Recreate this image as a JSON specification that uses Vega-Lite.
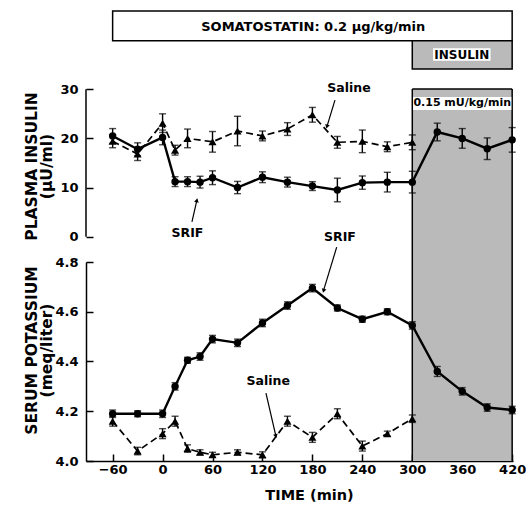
{
 "$schema": "https://vega.github.io/schema/vega-lite/v6.json",
 "padding": {"left": 23, "top": 0, "right": 0, "bottom": 0},
 "spacing": 0,
 "bounds": "flush",
 "resolve": {"scale": {"x": "independent", "y": "independent"}},
 "config": {
  "view": {"stroke": null},
  "font": "DejaVu Sans",
  "text": {"font": "DejaVu Sans", "fontWeight": "bold", "color": "black"},
  "axis": {"labelFont": "DejaVu Sans", "labelFontWeight": "bold", "labelFontSize": 13, "labelColor": "black", "titleFont": "DejaVu Sans", "titleFontWeight": "bold", "titleColor": "black", "domainColor": "black", "domainWidth": 1.5, "tickColor": "black", "tickWidth": 1.5, "grid": false, "zindex": 1, "labelFlush": false}
 },
 "datasets": {
  "one": [{}],
  "insulin": [
   {"t": -60, "v": 20.5, "e": 1.5, "g": "SRIF"}, {"t": -30, "v": 17.8, "e": 1.3, "g": "SRIF"}, {"t": 0, "v": 20.2, "e": 1.5, "g": "SRIF"},
   {"t": 15, "v": 11.2, "e": 1.0, "g": "SRIF"}, {"t": 30, "v": 11.2, "e": 1.0, "g": "SRIF"}, {"t": 45, "v": 11.1, "e": 1.2, "g": "SRIF"},
   {"t": 60, "v": 12.0, "e": 1.4, "g": "SRIF"}, {"t": 90, "v": 10.0, "e": 1.25, "g": "SRIF"}, {"t": 120, "v": 12.1, "e": 1.1, "g": "SRIF"},
   {"t": 150, "v": 11.1, "e": 1.0, "g": "SRIF"}, {"t": 180, "v": 10.3, "e": 0.9, "g": "SRIF"}, {"t": 210, "v": 9.5, "e": 2.4, "g": "SRIF"},
   {"t": 240, "v": 11.0, "e": 1.35, "g": "SRIF"}, {"t": 270, "v": 11.1, "e": 2.0, "g": "SRIF"}, {"t": 300, "v": 11.1, "e": 2.2, "g": "SRIF"},
   {"t": 330, "v": 21.3, "e": 1.8, "g": "SRIF"}, {"t": 360, "v": 20.0, "e": 2.0, "g": "SRIF"}, {"t": 390, "v": 17.9, "e": 2.2, "g": "SRIF"},
   {"t": 420, "v": 19.7, "e": 2.5, "g": "SRIF"},
   {"t": -60, "v": 19.4, "e": 1.3, "g": "Saline"}, {"t": -30, "v": 16.8, "e": 1.3, "g": "Saline"}, {"t": 0, "v": 23.1, "e": 1.9, "g": "Saline"},
   {"t": 15, "v": 17.6, "e": 1.0, "g": "Saline"}, {"t": 30, "v": 20.0, "e": 1.9, "g": "Saline"}, {"t": 60, "v": 19.3, "e": 2.1, "g": "Saline"},
   {"t": 90, "v": 21.5, "e": 3.0, "g": "Saline"}, {"t": 120, "v": 20.5, "e": 1.0, "g": "Saline"}, {"t": 150, "v": 21.9, "e": 1.3, "g": "Saline"},
   {"t": 180, "v": 24.8, "e": 1.5, "g": "Saline"}, {"t": 210, "v": 19.2, "e": 1.2, "g": "Saline"}, {"t": 240, "v": 19.4, "e": 2.3, "g": "Saline"},
   {"t": 270, "v": 18.3, "e": 1.0, "g": "Saline"}, {"t": 300, "v": 19.2, "e": 1.5, "g": "Saline"}
  ],
  "potassium": [
   {"t": -60, "v": 4.19, "e": 0.015, "g": "SRIF"}, {"t": -30, "v": 4.19, "e": 0.012, "g": "SRIF"}, {"t": 0, "v": 4.19, "e": 0.015, "g": "SRIF"},
   {"t": 15, "v": 4.30, "e": 0.015, "g": "SRIF"}, {"t": 30, "v": 4.405, "e": 0.012, "g": "SRIF"}, {"t": 45, "v": 4.42, "e": 0.015, "g": "SRIF"},
   {"t": 60, "v": 4.49, "e": 0.015, "g": "SRIF"}, {"t": 90, "v": 4.475, "e": 0.015, "g": "SRIF"}, {"t": 120, "v": 4.555, "e": 0.015, "g": "SRIF"},
   {"t": 150, "v": 4.625, "e": 0.015, "g": "SRIF"}, {"t": 180, "v": 4.695, "e": 0.015, "g": "SRIF"}, {"t": 210, "v": 4.615, "e": 0.012, "g": "SRIF"},
   {"t": 240, "v": 4.57, "e": 0.012, "g": "SRIF"}, {"t": 270, "v": 4.60, "e": 0.012, "g": "SRIF"}, {"t": 300, "v": 4.545, "e": 0.015, "g": "SRIF"},
   {"t": 330, "v": 4.36, "e": 0.02, "g": "SRIF"}, {"t": 360, "v": 4.28, "e": 0.015, "g": "SRIF"}, {"t": 390, "v": 4.215, "e": 0.015, "g": "SRIF"},
   {"t": 420, "v": 4.205, "e": 0.015, "g": "SRIF"},
   {"t": -60, "v": 4.16, "e": 0.02, "g": "Saline"}, {"t": -30, "v": 4.04, "e": 0.015, "g": "Saline"}, {"t": 0, "v": 4.11, "e": 0.02, "g": "Saline"},
   {"t": 15, "v": 4.16, "e": 0.02, "g": "Saline"}, {"t": 30, "v": 4.05, "e": 0.015, "g": "Saline"}, {"t": 45, "v": 4.035, "e": 0.01, "g": "Saline"},
   {"t": 60, "v": 4.025, "e": 0.01, "g": "Saline"}, {"t": 90, "v": 4.035, "e": 0.01, "g": "Saline"}, {"t": 120, "v": 4.025, "e": 0.012, "g": "Saline"},
   {"t": 150, "v": 4.16, "e": 0.02, "g": "Saline"}, {"t": 180, "v": 4.095, "e": 0.02, "g": "Saline"}, {"t": 210, "v": 4.19, "e": 0.02, "g": "Saline"},
   {"t": 240, "v": 4.06, "e": 0.02, "g": "Saline"}, {"t": 270, "v": 4.11, "e": 0.01, "g": "Saline"}, {"t": 300, "v": 4.17, "e": 0.015, "g": "Saline"}
  ]
 },
 "vconcat": [
  {
   "width": 427, "height": 89,
   "data": {"name": "one"},
   "encoding": {
    "x": {"type": "quantitative", "scale": {"domain": [-92, 421], "nice": false, "zero": false}, "axis": null},
    "y": {"type": "quantitative", "scale": {"domain": [0, 8.9], "reverse": true, "nice": false, "zero": false}, "axis": null}
   },
   "layer": [
    {"mark": {"type": "rect", "fill": "white", "stroke": "black", "strokeWidth": 1.5},
     "encoding": {"x": {"datum": -60}, "x2": {"datum": 420}, "y": {"datum": 1.1}, "y2": {"datum": 4.07}}},
    {"mark": {"type": "rect", "fill": "#bababa", "stroke": "black", "strokeWidth": 1.5},
     "encoding": {"x": {"datum": 300}, "x2": {"datum": 420}, "y": {"datum": 4.07}, "y2": {"datum": 6.9}}},
    {"mark": {"type": "rect", "fill": "white"},
     "encoding": {"x": {"datum": 325}, "x2": {"datum": 394}, "y": {"datum": 4.83}, "y2": {"datum": 6.07}}},
    {"mark": {"type": "text", "fontSize": 13, "align": "center", "baseline": "middle"},
     "encoding": {"x": {"datum": 181}, "y": {"datum": 2.65}, "text": {"value": "SOMATOSTATIN: 0.2 μg/kg/min"}}},
    {"mark": {"type": "text", "fontSize": 12, "align": "center", "baseline": "middle"},
     "encoding": {"x": {"datum": 359.5}, "y": {"datum": 5.45}, "text": {"value": "INSULIN"}}}
   ]
  },
  {
   "width": 427, "height": 173,
   "layer": [
    {"data": {"name": "one"}, "mark": {"type": "rect", "fill": "#bababa"},
     "encoding": {"x": {"datum": 300, "type": "quantitative", "scale": {"domain": [-92, 421], "nice": false, "zero": false}, "axis": null}, "x2": {"datum": 420}}},
    {"data": {"name": "one"}, "mark": {"type": "rule", "color": "black", "strokeWidth": 1.5}, "encoding": {"x": {"datum": 300, "type": "quantitative"}}},
    {"data": {"name": "one"}, "mark": {"type": "rule", "color": "black", "strokeWidth": 1.5}, "encoding": {"x": {"datum": 420, "type": "quantitative"}}},
    {"data": {"name": "one"}, "mark": {"type": "rule", "color": "black", "strokeWidth": 1.5},
     "encoding": {"x": {"datum": 300, "type": "quantitative"}, "x2": {"datum": 420}, "y": {"datum": 30.05, "type": "quantitative"}}},
    {"data": {"name": "one"}, "mark": {"type": "rule", "color": "black", "strokeWidth": 1.5},
     "encoding": {"x": {"datum": -92, "type": "quantitative"}, "y": {"datum": 0, "type": "quantitative"}, "y2": {"datum": 30}}},
    {"data": {"name": "insulin"}, "transform": [{"filter": "datum.g == 'SRIF'"}],
     "mark": {"type": "line", "color": "black", "strokeWidth": 2.4},
     "encoding": {"x": {"field": "t", "type": "quantitative"}, "y": {"field": "v", "type": "quantitative"}}},
    {"data": {"name": "insulin"}, "transform": [{"filter": "datum.g == 'Saline'"}],
     "mark": {"type": "line", "color": "black", "strokeWidth": 1.7, "strokeDash": [7, 4]},
     "encoding": {"x": {"field": "t", "type": "quantitative"}, "y": {"field": "v", "type": "quantitative"}}},
    {"data": {"name": "insulin"},
     "mark": {"type": "errorbar", "ticks": {"size": 7}, "color": "black", "thickness": 1.4},
     "encoding": {"x": {"field": "t", "type": "quantitative"}, "y": {"field": "v", "type": "quantitative", "scale": {"domain": [-5.15, 30.05], "nice": false, "zero": false},
       "axis": {"values": [0, 10, 20, 30], "domain": false, "tickSize": -7, "labelPadding": 15, "title": ["PLASMA INSULIN", "(μU/ml)"], "titleFontSize": 15.5, "titleAngle": -90, "titleX": -55, "titleY": 77, "titleAlign": "center", "titleBaseline": "middle", "titleLineHeight": 15.5}},
      "yError": {"field": "e"}}},
    {"data": {"name": "insulin"}, "transform": [{"filter": "datum.g == 'SRIF'"}],
     "mark": {"type": "point", "shape": "circle", "filled": true, "size": 55, "color": "black", "opacity": 1},
     "encoding": {"x": {"field": "t", "type": "quantitative"}, "y": {"field": "v", "type": "quantitative"}}},
    {"data": {"name": "insulin"}, "transform": [{"filter": "datum.g == 'Saline'"}],
     "mark": {"type": "point", "shape": "triangle-up", "filled": true, "size": 65, "color": "black", "opacity": 1},
     "encoding": {"x": {"field": "t", "type": "quantitative"}, "y": {"field": "v", "type": "quantitative"}}},
    {"data": {"name": "one"}, "mark": {"type": "rect", "fill": "white"},
     "encoding": {"x": {"datum": 301, "type": "quantitative"}, "x2": {"datum": 419}, "y": {"datum": 25.8, "type": "quantitative"}, "y2": {"datum": 28.4}}},
    {"data": {"name": "one"}, "mark": {"type": "text", "fontSize": 11, "align": "center", "baseline": "middle"},
     "encoding": {"x": {"datum": 360, "type": "quantitative"}, "y": {"datum": 27.1, "type": "quantitative"}, "text": {"value": "0.15 mU/kg/min"}}},
    {"data": {"name": "one"}, "mark": {"type": "text", "fontSize": 12.5, "align": "center", "baseline": "middle"},
     "encoding": {"x": {"datum": 223.9, "type": "quantitative"}, "y": {"datum": 30.25, "type": "quantitative"}, "text": {"value": "Saline"}}},
    {"data": {"name": "one"}, "mark": {"type": "rule", "color": "black", "strokeWidth": 1.2},
     "encoding": {"x": {"datum": 207.1, "type": "quantitative"}, "x2": {"datum": 197.8}, "y": {"datum": 27.8, "type": "quantitative"}, "y2": {"datum": 22.6}}},
    {"data": {"name": "one"}, "mark": {"type": "point", "shape": "triangle-down", "filled": true, "size": 22, "color": "black", "opacity": 1, "angle": 16},
     "encoding": {"x": {"datum": 197.5, "type": "quantitative"}, "y": {"datum": 22.4, "type": "quantitative"}}},
    {"data": {"name": "one"}, "mark": {"type": "text", "fontSize": 12.5, "align": "center", "baseline": "middle"},
     "encoding": {"x": {"datum": 29.9, "type": "quantitative"}, "y": {"datum": 0.85, "type": "quantitative"}, "text": {"value": "SRIF"}}},
    {"data": {"name": "one"}, "mark": {"type": "rule", "color": "black", "strokeWidth": 1.2},
     "encoding": {"x": {"datum": 35.3, "type": "quantitative"}, "x2": {"datum": 40.9}, "y": {"datum": 3.0, "type": "quantitative"}, "y2": {"datum": 7.2}}},
    {"data": {"name": "one"}, "mark": {"type": "point", "shape": "triangle-up", "filled": true, "size": 22, "color": "black", "opacity": 1, "angle": 13},
     "encoding": {"x": {"datum": 41.2, "type": "quantitative"}, "y": {"datum": 7.4, "type": "quantitative"}}},
    {"data": {"name": "one"}, "mark": {"type": "text", "fontSize": 12.5, "align": "center", "baseline": "middle"},
     "encoding": {"x": {"datum": 213.1, "type": "quantitative"}, "y": {"datum": -0.06, "type": "quantitative"}, "text": {"value": "SRIF"}}}
   ]
  },
  {
   "width": 427, "height": 199,
   "layer": [
    {"data": {"name": "one"}, "mark": {"type": "rect", "fill": "#bababa"},
     "encoding": {"x": {"datum": 300, "type": "quantitative", "scale": {"domain": [-92, 421], "nice": false, "zero": false},
       "axis": {"values": [-60, 0, 60, 120, 180, 240, 300, 360, 420], "tickSize": -7, "labelPadding": 9, "title": "TIME (min)", "titleFontSize": 14.5, "titleX": 223, "titleY": 34, "titleBaseline": "middle", "titleAlign": "center"}},
      "x2": {"datum": 420}}},
    {"data": {"name": "one"}, "mark": {"type": "rule", "color": "black", "strokeWidth": 1.5}, "encoding": {"x": {"datum": 300, "type": "quantitative"}}},
    {"data": {"name": "one"}, "mark": {"type": "rule", "color": "black", "strokeWidth": 1.5}, "encoding": {"x": {"datum": 420, "type": "quantitative"}}},
    {"data": {"name": "potassium"}, "transform": [{"filter": "datum.g == 'SRIF'"}],
     "mark": {"type": "line", "color": "black", "strokeWidth": 2.4},
     "encoding": {"x": {"field": "t", "type": "quantitative"}, "y": {"field": "v", "type": "quantitative"}}},
    {"data": {"name": "potassium"}, "transform": [{"filter": "datum.g == 'Saline'"}],
     "mark": {"type": "line", "color": "black", "strokeWidth": 1.7, "strokeDash": [7, 4]},
     "encoding": {"x": {"field": "t", "type": "quantitative"}, "y": {"field": "v", "type": "quantitative"}}},
    {"data": {"name": "potassium"},
     "mark": {"type": "errorbar", "ticks": {"size": 7}, "color": "black", "thickness": 1.4},
     "encoding": {"x": {"field": "t", "type": "quantitative"}, "y": {"field": "v", "type": "quantitative", "scale": {"domain": [4.0, 4.8], "nice": false, "zero": false},
       "axis": {"values": [4.0, 4.2, 4.4, 4.6, 4.8], "format": ".1f", "tickSize": -7, "labelPadding": 15, "title": ["SERUM POTASSIUM", "(meq/liter)"], "titleFontSize": 15.5, "titleAngle": -90, "titleX": -55, "titleY": 88, "titleAlign": "center", "titleBaseline": "middle", "titleLineHeight": 15.5}},
      "yError": {"field": "e"}}},
    {"data": {"name": "potassium"}, "transform": [{"filter": "datum.g == 'SRIF'"}],
     "mark": {"type": "point", "shape": "circle", "filled": true, "size": 55, "color": "black", "opacity": 1},
     "encoding": {"x": {"field": "t", "type": "quantitative"}, "y": {"field": "v", "type": "quantitative"}}},
    {"data": {"name": "potassium"}, "transform": [{"filter": "datum.g == 'Saline'"}],
     "mark": {"type": "point", "shape": "triangle-up", "filled": true, "size": 65, "color": "black", "opacity": 1},
     "encoding": {"x": {"field": "t", "type": "quantitative"}, "y": {"field": "v", "type": "quantitative"}}},
    {"data": {"name": "one"}, "mark": {"type": "rule", "color": "black", "strokeWidth": 1.2},
     "encoding": {"x": {"datum": 209.2, "type": "quantitative"}, "x2": {"datum": 193.8}, "y": {"datum": 4.86, "type": "quantitative"}, "y2": {"datum": 4.69}}},
    {"data": {"name": "one"}, "mark": {"type": "point", "shape": "triangle-down", "filled": true, "size": 22, "color": "black", "opacity": 1, "angle": 16},
     "encoding": {"x": {"datum": 193.4, "type": "quantitative"}, "y": {"datum": 4.684, "type": "quantitative"}}},
    {"data": {"name": "one"}, "mark": {"type": "text", "fontSize": 12.5, "align": "center", "baseline": "middle"},
     "encoding": {"x": {"datum": 127.0, "type": "quantitative"}, "y": {"datum": 4.323, "type": "quantitative"}, "text": {"value": "Saline"}}},
    {"data": {"name": "one"}, "mark": {"type": "rule", "color": "black", "strokeWidth": 1.2},
     "encoding": {"x": {"datum": 124.2, "type": "quantitative"}, "x2": {"datum": 135.8}, "y": {"datum": 4.273, "type": "quantitative"}, "y2": {"datum": 4.105}}},
    {"data": {"name": "one"}, "mark": {"type": "point", "shape": "triangle-down", "filled": true, "size": 22, "color": "black", "opacity": 1, "angle": -13},
     "encoding": {"x": {"datum": 136.1, "type": "quantitative"}, "y": {"datum": 4.1, "type": "quantitative"}}}
   ]
  }
 ]
}
